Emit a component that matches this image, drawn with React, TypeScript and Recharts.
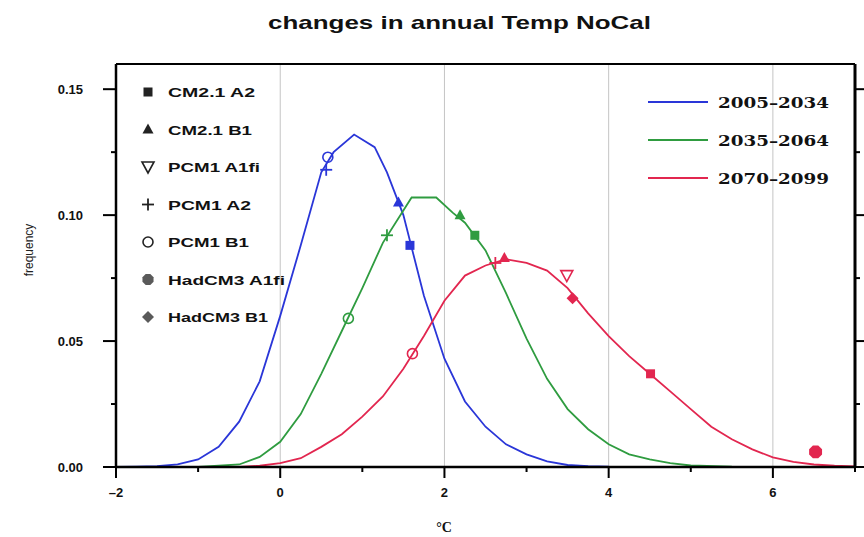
import React from 'react';
import {
  ComposedChart, Line, Scatter, XAxis, YAxis, ReferenceLine,
} from 'recharts';

// ---- data ----
const periods = ['2005–2034', '2035–2064', '2070–2099'];

const p1X = [-2, -1.75, -1.5, -1.25, -1, -0.75, -0.5, -0.25, 0, 0.25, 0.5, 0.65, 0.9, 1.15, 1.3, 1.5, 1.75, 2, 2.25, 2.5, 2.75, 3, 3.25, 3.5, 3.75, 4, 7];
const p1Y = [0, 0.0001, 0.0003, 0.001, 0.003, 0.008, 0.018, 0.034, 0.06, 0.088, 0.117, 0.125, 0.132, 0.127, 0.117, 0.1, 0.068, 0.043, 0.026, 0.016, 0.009, 0.005, 0.0022, 0.0008, 0.0003, 0.0001, 0];

const p2X = [-2, -1, -0.5, -0.25, 0, 0.25, 0.5, 0.75, 1, 1.25, 1.6, 1.9, 2.1, 2.25, 2.5, 2.75, 3, 3.25, 3.5, 3.75, 4, 4.25, 4.5, 4.75, 5, 5.5, 7];
const p2Y = [0, 0, 0.001, 0.004, 0.01, 0.021, 0.037, 0.054, 0.071, 0.089, 0.107, 0.107, 0.101, 0.097, 0.086, 0.069, 0.051, 0.035, 0.023, 0.015, 0.009, 0.005, 0.003, 0.0015, 0.0006, 0.0001, 0];

const p3X = [-2, -0.5, -0.25, 0, 0.25, 0.5, 0.75, 1, 1.25, 1.5, 1.75, 2, 2.25, 2.5, 2.75, 3, 3.25, 3.5, 3.75, 4, 4.25, 4.5, 4.75, 5, 5.25, 5.5, 5.75, 6, 6.25, 6.5, 6.75, 7];
const p3Y = [0, 0, 0.0005, 0.0015, 0.0035, 0.008, 0.013, 0.02, 0.028, 0.039, 0.052, 0.066, 0.076, 0.08, 0.0825, 0.081, 0.078, 0.071, 0.061, 0.052, 0.044, 0.037, 0.03, 0.023, 0.016, 0.011, 0.007, 0.0038, 0.002, 0.001, 0.0005, 0.0002];

const models = ['CM2.1 A2', 'CM2.1 B1', 'PCM1 A1fi', 'PCM1 A2', 'PCM1 B1', 'HadCM3 A1fi', 'HadCM3 B1'];

const markerModel = ['PCM1 B1', 'PCM1 A2', 'CM2.1 B1', 'CM2.1 A2',
  'PCM1 B1', 'PCM1 A2', 'CM2.1 B1', 'CM2.1 A2',
  'PCM1 B1', 'PCM1 A2', 'CM2.1 B1', 'PCM1 A1fi', 'HadCM3 B1', 'CM2.1 A2', 'HadCM3 A1fi'];
const markerPeriod = [0, 0, 0, 0, 1, 1, 1, 1, 2, 2, 2, 2, 2, 2, 2];
const markerX = [0.58, 0.56, 1.44, 1.58, 0.83, 1.3, 2.19, 2.37, 1.61, 2.62, 2.73, 3.49, 3.56, 4.51, 6.52];
const markerY = [0.123, 0.118, 0.105, 0.088, 0.059, 0.092, 0.1, 0.092, 0.045, 0.081, 0.083, 0.076, 0.067, 0.037, 0.006];

const xTicks = [-2, -1, 0, 1, 2, 3, 4, 5, 6, 7];
const yTicks = [0, 0.025, 0.05, 0.075, 0.1, 0.125, 0.15];
const gridX = [0, 2, 4, 6];

// ---- styles ----
const colors = ['#2a36d8', '#2f9c40', '#e2264f'];
const legendColors = ['#222', '#222', '#222', '#222', '#222', '#5a5a5a', '#5a5a5a'];

const toRows = (xs: number[], ys: number[]) => xs.map((x, i) => ({ x, y: ys[i] }));
const curves = [toRows(p1X, p1Y), toRows(p2X, p2Y), toRows(p3X, p3Y)];

const markerRows = markerX.map((x, i) => ({ x, y: markerY[i], model: markerModel[i], period: markerPeriod[i] }));

function Shape({ model, cx, cy, color, big }: { model: string; cx: number; cy: number; color: string; big?: boolean }) {
  const s = 5;
  switch (model) {
    case 'CM2.1 A2':
      return <rect x={cx - 4.5} y={cy - 4.5} width={9} height={9} fill={color} />;
    case 'CM2.1 B1':
      return <polygon points={`${cx},${cy - 6} ${cx + 5.5},${cy + 4} ${cx - 5.5},${cy + 4}`} fill={color} />;
    case 'PCM1 A1fi':
      return <polygon points={`${cx - 6},${cy - 5} ${cx + 6},${cy - 5} ${cx},${cy + 6}`} fill="none" stroke={color} strokeWidth={1.6} />;
    case 'PCM1 A2':
      return (
        <g stroke={color} strokeWidth={1.8}>
          <line x1={cx - 6} y1={cy} x2={cx + 6} y2={cy} />
          <line x1={cx} y1={cy - 6} x2={cx} y2={cy + 6} />
        </g>
      );
    case 'PCM1 B1':
      return <circle cx={cx} cy={cy} r={5} fill="none" stroke={color} strokeWidth={1.6} />;
    case 'HadCM3 A1fi': {
      const r = big ? 7 : 6;
      const pts = Array.from({ length: 8 }, (_, k) => {
        const a = (Math.PI / 8) + (k * Math.PI) / 4;
        return `${cx + r * Math.cos(a)},${cy + r * Math.sin(a)}`;
      }).join(' ');
      return <polygon points={pts} fill={color} />;
    }
    case 'HadCM3 B1':
    default:
      return <polygon points={`${cx},${cy - s - 1} ${cx + s + 1},${cy} ${cx},${cy + s + 1} ${cx - s - 1},${cy}`} fill={color} />;
  }
}

const FONT = '"Liberation Sans", Arial, sans-serif';

function BottomTick(props: any) {
  const { x, y, payload } = props;
  const v = payload.value;
  const major = Math.abs(v % 2) < 1e-9;
  return (
    <g>
      <line x1={x} y1={y} x2={x} y2={y + (major ? 11 : 5)} stroke="#000" strokeWidth={2} />
      {major && (
        <text x={x} y={y + 30} textAnchor="middle" fontFamily={FONT} fontWeight="bold" fontSize={13} fill="#111">
          {v < 0 ? `–${Math.abs(v)}` : `${v}`}
        </text>
      )}
    </g>
  );
}
function TopTick(props: any) {
  const { x, y, payload } = props;
  const major = Math.abs(payload.value % 2) < 1e-9;
  return <line x1={x} y1={y} x2={x} y2={y - (major ? 10 : 5)} stroke="#000" strokeWidth={2} />;
}
function LeftTick(props: any) {
  const { x, y, payload } = props;
  const v = payload.value;
  const major = Math.abs(Math.round(v * 1000) % 50) < 1e-6;
  return (
    <g>
      <line x1={x} y1={y} x2={x - (major ? 13 : 5)} y2={y} stroke="#000" strokeWidth={2} />
      {major && (
        <text x={x - 33} y={y + 5} textAnchor="end" fontFamily={FONT} fontWeight="bold" fontSize={13} fill="#111">
          {v.toFixed(2)}
        </text>
      )}
    </g>
  );
}
function RightTick(props: any) {
  const { x, y, payload } = props;
  const major = Math.abs(Math.round(payload.value * 1000) % 50) < 1e-6;
  return <line x1={x} y1={y} x2={x + (major ? 9 : 5)} y2={y} stroke="#000" strokeWidth={2} />;
}

const modelLabelLen: Record<string, number> = {
  'CM2.1 A2': 87, 'CM2.1 B1': 84, 'PCM1 A1fi': 92, 'PCM1 A2': 83, 'PCM1 B1': 81, 'HadCM3 A1fi': 117, 'HadCM3 B1': 100,
};

export default function App() {
  return (
    <div style={{ position: 'absolute', left: 0, top: 0, width: 864, height: 537, background: '#fff' }}>
      <ComposedChart width={864} height={537} margin={{ top: 63, right: 8, bottom: 69, left: 115 }}>
        <XAxis
          xAxisId={0}
          dataKey="x"
          type="number"
          domain={[-2, 7]}
          ticks={xTicks}
          allowDataOverflow
          height={1}
          tickSize={0}
          tickMargin={0}
          tickLine={false}
          tick={<BottomTick />}
          axisLine={{ stroke: '#000', strokeWidth: 2.5 }}
          interval={0}
        />
        <XAxis
          xAxisId="t"
          orientation="top"
          type="number"
          domain={[-2, 7]}
          ticks={xTicks}
          allowDataOverflow
          height={1}
          tickSize={0}
          tickMargin={0}
          tickLine={false}
          tick={<TopTick />}
          axisLine={{ stroke: '#000', strokeWidth: 2 }}
          interval={0}
        />
        <YAxis
          yAxisId={0}
          dataKey="y"
          type="number"
          domain={[0, 0.16]}
          ticks={yTicks}
          allowDataOverflow
          width={1}
          tickSize={0}
          tickMargin={0}
          tickLine={false}
          tick={<LeftTick />}
          axisLine={{ stroke: '#000', strokeWidth: 2.5 }}
          interval={0}
        />
        <YAxis
          yAxisId="r"
          orientation="right"
          type="number"
          domain={[0, 0.16]}
          ticks={yTicks}
          allowDataOverflow
          width={1}
          tickSize={0}
          tickMargin={0}
          tickLine={false}
          tick={<RightTick />}
          axisLine={{ stroke: '#000', strokeWidth: 3 }}
          interval={0}
        />
        {gridX.map((g) => (
          <ReferenceLine key={g} x={g} stroke="#c4c4c4" strokeWidth={1} />
        ))}
        {curves.map((rows, i) => (
          <Line
            key={periods[i]}
            data={rows}
            dataKey="y"
            type="linear"
            stroke={colors[i]}
            strokeWidth={1.8}
            dot={false}
            isAnimationActive={false}
          />
        ))}
        {models.map((m) => (
          <Scatter
            key={m}
            name={m}
            data={markerRows.filter((r) => r.model === m)}
            dataKey="y"
            isAnimationActive={false}
            shape={(p: any) => (
              <Shape model={m} cx={p.cx} cy={p.cy} color={colors[p.payload.period]} big={m === 'HadCM3 A1fi'} />
            )}
          />
        ))}
      </ComposedChart>
      <svg width={864} height={537} style={{ position: 'absolute', left: 0, top: 0, pointerEvents: 'none' }}>
        <text x={268} y={29} fontFamily={FONT} fontWeight="bold" fontSize={19} fill="#111" textLength={383} lengthAdjust="spacingAndGlyphs">
          changes in annual Temp NoCal
        </text>
        <text x={33} y={250} transform="rotate(-90 33 250)" textAnchor="middle" fontFamily={FONT} fontSize={12} fill="#222">
          frequency
        </text>
        <text x={444} y={532} textAnchor="middle" fontFamily='"Liberation Serif", serif' fontWeight="bold" fontSize={14} fill="#111">
          °C
        </text>
        {models.map((m, i) => {
          const y = 92 + i * 37.5;
          return (
            <g key={m}>
              <Shape model={m} cx={148} cy={y} color={legendColors[i]} />
              <text x={168} y={y + 5} fontFamily={FONT} fontWeight="bold" fontSize={13} fill="#111" textLength={modelLabelLen[m]} lengthAdjust="spacingAndGlyphs">
                {m}
              </text>
            </g>
          );
        })}
        {periods.map((p, i) => {
          const y = 102 + i * 38;
          return (
            <g key={p}>
              <line x1={648} y1={y} x2={708} y2={y} stroke={colors[i]} strokeWidth={2} />
              <text x={718} y={y + 6} fontFamily='"DejaVu Serif", serif' fontWeight="bold" fontSize={15} fill="#111" textLength={111} lengthAdjust="spacingAndGlyphs">
                {p}
              </text>
            </g>
          );
        })}
      </svg>
    </div>
  );
}
